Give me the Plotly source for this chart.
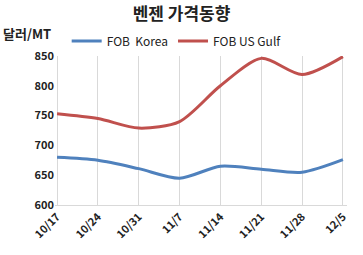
import plotly.graph_objects as go

dates = ["10/17", "10/24", "10/31", "11/7", "11/14", "11/21", "11/28", "12/5"]
korea = [680, 675, 661, 645, 665, 660, 655, 676]
usgulf = [753, 745, 729, 740, 800, 846, 819, 849]
yticks = [600, 650, 700, 750, 800, 850]

fig = go.Figure()
fig.add_trace(go.Scatter(x=dates, y=korea, name="FOB  Korea", mode="lines",
                         line=dict(color="#4F81BD", width=3, shape="spline", smoothing=0.8)))
fig.add_trace(go.Scatter(x=dates, y=usgulf, name="FOB US Gulf", mode="lines",
                         line=dict(color="#C0504D", width=3, shape="spline", smoothing=0.8)))

font = "Noto Sans CJK KR"
fig.update_layout(
    width=363, height=255,
    margin=dict(l=55, r=16, t=56, b=50),
    paper_bgcolor="white", plot_bgcolor="white",
    font=dict(family=font, color="#222", size=11),
    title=dict(text="<b>벤젠 가격동향</b>", x=0.5, xanchor="center", y=0.945, yanchor="middle",
               font=dict(size=17, family=font, color="#222")),
    legend=dict(orientation="h", x=0.04, y=1.10, xanchor="left", yanchor="middle",
                font=dict(size=12, family=font, color="#222"),
                itemwidth=30, tracegroupgap=0, bgcolor="rgba(0,0,0,0)"),
    showlegend=True,
    xaxis=dict(type="category", tickangle=-45, showgrid=True, gridcolor="#d9d9d9",
               gridwidth=1, showline=True, linecolor="#d9d9d9", ticks="",
               tickfont=dict(size=11, family=font, color="#222", weight="bold"),
               range=[-0.05, 7.1]),
    yaxis=dict(range=[600, 850], tickvals=yticks, showgrid=False, zeroline=False,
               showline=False, ticks="",
               tickfont=dict(size=11, family=font, color="#222", weight="bold")),
)
fig.add_annotation(text="<b>달러/MT</b>", xref="paper", yref="paper", x=-0.185, y=1.154,
                   xanchor="left", yanchor="middle", showarrow=False,
                   font=dict(size=13, family=font, color="#222"))
fig.write_html("out.html")
